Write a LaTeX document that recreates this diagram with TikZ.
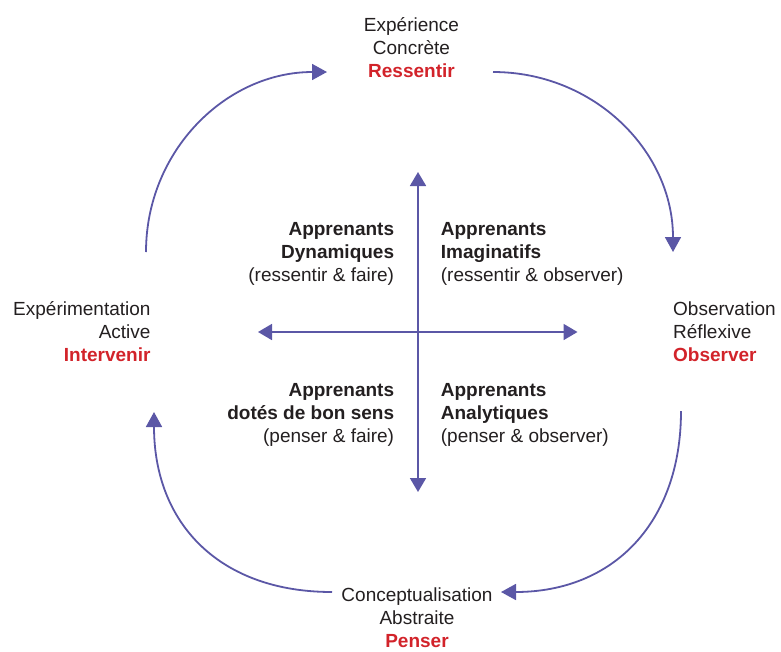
\documentclass[tikz,border=0pt]{standalone}
\usepackage{fontspec}
\setmainfont{Liberation Sans}[Ligatures=NoCommon]
\usetikzlibrary{arrows.meta}
\definecolor{cyc}{HTML}{5B57A6}
\definecolor{lred}{HTML}{D2232A}
\definecolor{txt}{HTML}{231F20}
\tikzset{
  lbl/.style={inner sep=0pt, text=txt, font=\fontsize{19}{23}\selectfont},
  cycarrow/.style={draw=cyc, line width=1.8pt, -{Triangle[length=15pt,width=16pt]}},
  axisarrow/.style={draw=cyc, line width=1.8pt, {Triangle[length=14pt,width=16pt]}-{Triangle[length=14pt,width=16pt]}},
}
\newcommand{\rd}[1]{\textbf{\color{lred}#1}}
\begin{document}
\begin{tikzpicture}[x=1pt,y=-1pt]
\useasboundingbox (0,0) rectangle (781,651);
% stage labels
\node[lbl, align=center] (ce) at (411.5,48) {Expérience\\Concrète\\\rd{Ressentir}};
\node[lbl, align=left, anchor=west] (or) at (673,332) {Observation\\Réflexive\\\rd{Observer}};
\node[lbl, align=center] (ca) at (417,617.5) {Conceptualisation\\Abstraite\\\rd{Penser}};
\node[lbl, align=right, anchor=east] (ea) at (150.7,332) {Expérimentation\\Active\\\rd{Intervenir}};
% quadrant labels
\node[lbl, align=right, anchor=east] (qdyn) at (394.3,254) {\textbf{Apprenants}\\\textbf{Dynamiques}\\(ressentir \& faire)};
\node[lbl, align=left, anchor=west] (qima) at (440.7,254) {\textbf{Apprenants}\\\textbf{Imaginatifs}\\(ressentir \& observer)};
\node[lbl, align=right, anchor=east] (qbon) at (394.3,415) {\textbf{Apprenants}\\\textbf{dotés de bon sens}\\(penser \& faire)};
\node[lbl, align=left, anchor=west] (qana) at (440.7,415) {\textbf{Apprenants}\\\textbf{Analytiques}\\(penser \& observer)};
% cycle connector ends
\coordinate (tlS) at (146,252);
\coordinate (tlE) at (327,72);
\coordinate (trS) at (493,72);
\coordinate (trE) at (673,252);
\coordinate (brS) at (681,411);
\coordinate (brE) at (501,592);
\coordinate (blS) at (332,592);
\coordinate (blE) at (154,412);
\draw[cycarrow] (tlS) .. controls (146,151) and (226,72) .. (tlE);
\draw[cycarrow] (trS) .. controls (594,72) and (673,151) .. (trE);
\draw[cycarrow] (brS) .. controls (681,523) and (613,592) .. (brE);
\draw[cycarrow] (blS) .. controls (220,592) and (154,524) .. (blE);
% axes
\coordinate (axT) at (418,172);
\coordinate (axB) at (418,492);
\coordinate (axL) at (258,332);
\coordinate (axR) at (577.5,332);
\draw[axisarrow] (axT) -- (axB);
\draw[axisarrow] (axL) -- (axR);
\end{tikzpicture}
\end{document}
